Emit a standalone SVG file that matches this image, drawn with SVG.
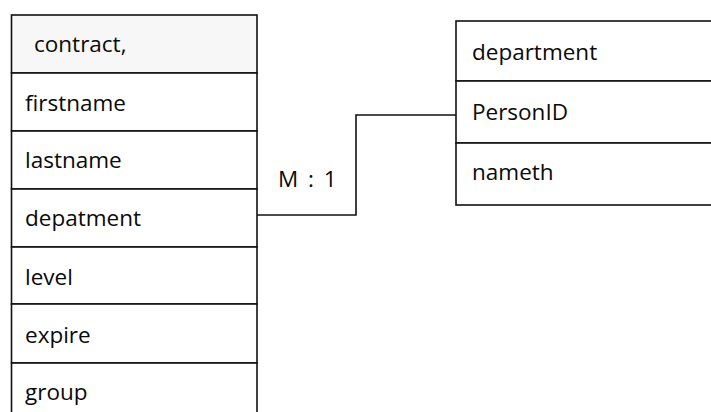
<svg xmlns="http://www.w3.org/2000/svg" width="711" height="412" viewBox="0 0 711 412">
<style>
.cell{fill:#fff;stroke:#111;stroke-width:1.6}
.t{font-family:"Open Sans","Noto Sans",sans-serif;font-size:22.5px;fill:#0a0a0a}
.conn{fill:none;stroke:#111;stroke-width:1.6}
</style>
<rect width="711" height="412" fill="#fff"/>
<g id="contract">
<rect class="cell" x="11.5" y="15" width="245.5" height="58" style="fill:#f7f7f7"/>
<text class="t" x="34" y="52">contract,</text>
<rect class="cell" x="11.5" y="73" width="245.5" height="58"/>
<text class="t" x="25" y="111">firstname</text>
<rect class="cell" x="11.5" y="131" width="245.5" height="58"/>
<text class="t" x="25" y="168">lastname</text>
<rect class="cell" x="11.5" y="189" width="245.5" height="58"/>
<text class="t" x="25" y="226">depatment</text>
<rect class="cell" x="11.5" y="247" width="245.5" height="57"/>
<text class="t" x="25" y="285">level</text>
<rect class="cell" x="11.5" y="304" width="245.5" height="59"/>
<text class="t" x="25" y="343">expire</text>
<rect class="cell" x="11.5" y="363" width="245.5" height="60"/>
<text class="t" x="25" y="400">group</text>
</g>
<g id="department">
<rect class="cell" x="456" y="21" width="260" height="60"/>
<text class="t" x="472" y="60">department</text>
<rect class="cell" x="456" y="81" width="260" height="62"/>
<text class="t" x="472" y="120">PersonID</text>
<rect class="cell" x="456" y="143" width="260" height="62"/>
<text class="t" x="472" y="180">nameth</text>
</g>
<g id="connectors">
<polyline class="conn" points="257,215 356,215 356,115 456,115"/>
<text class="t" x="278" y="187" style="word-spacing:4px">M : 1</text>
</g>
</svg>
